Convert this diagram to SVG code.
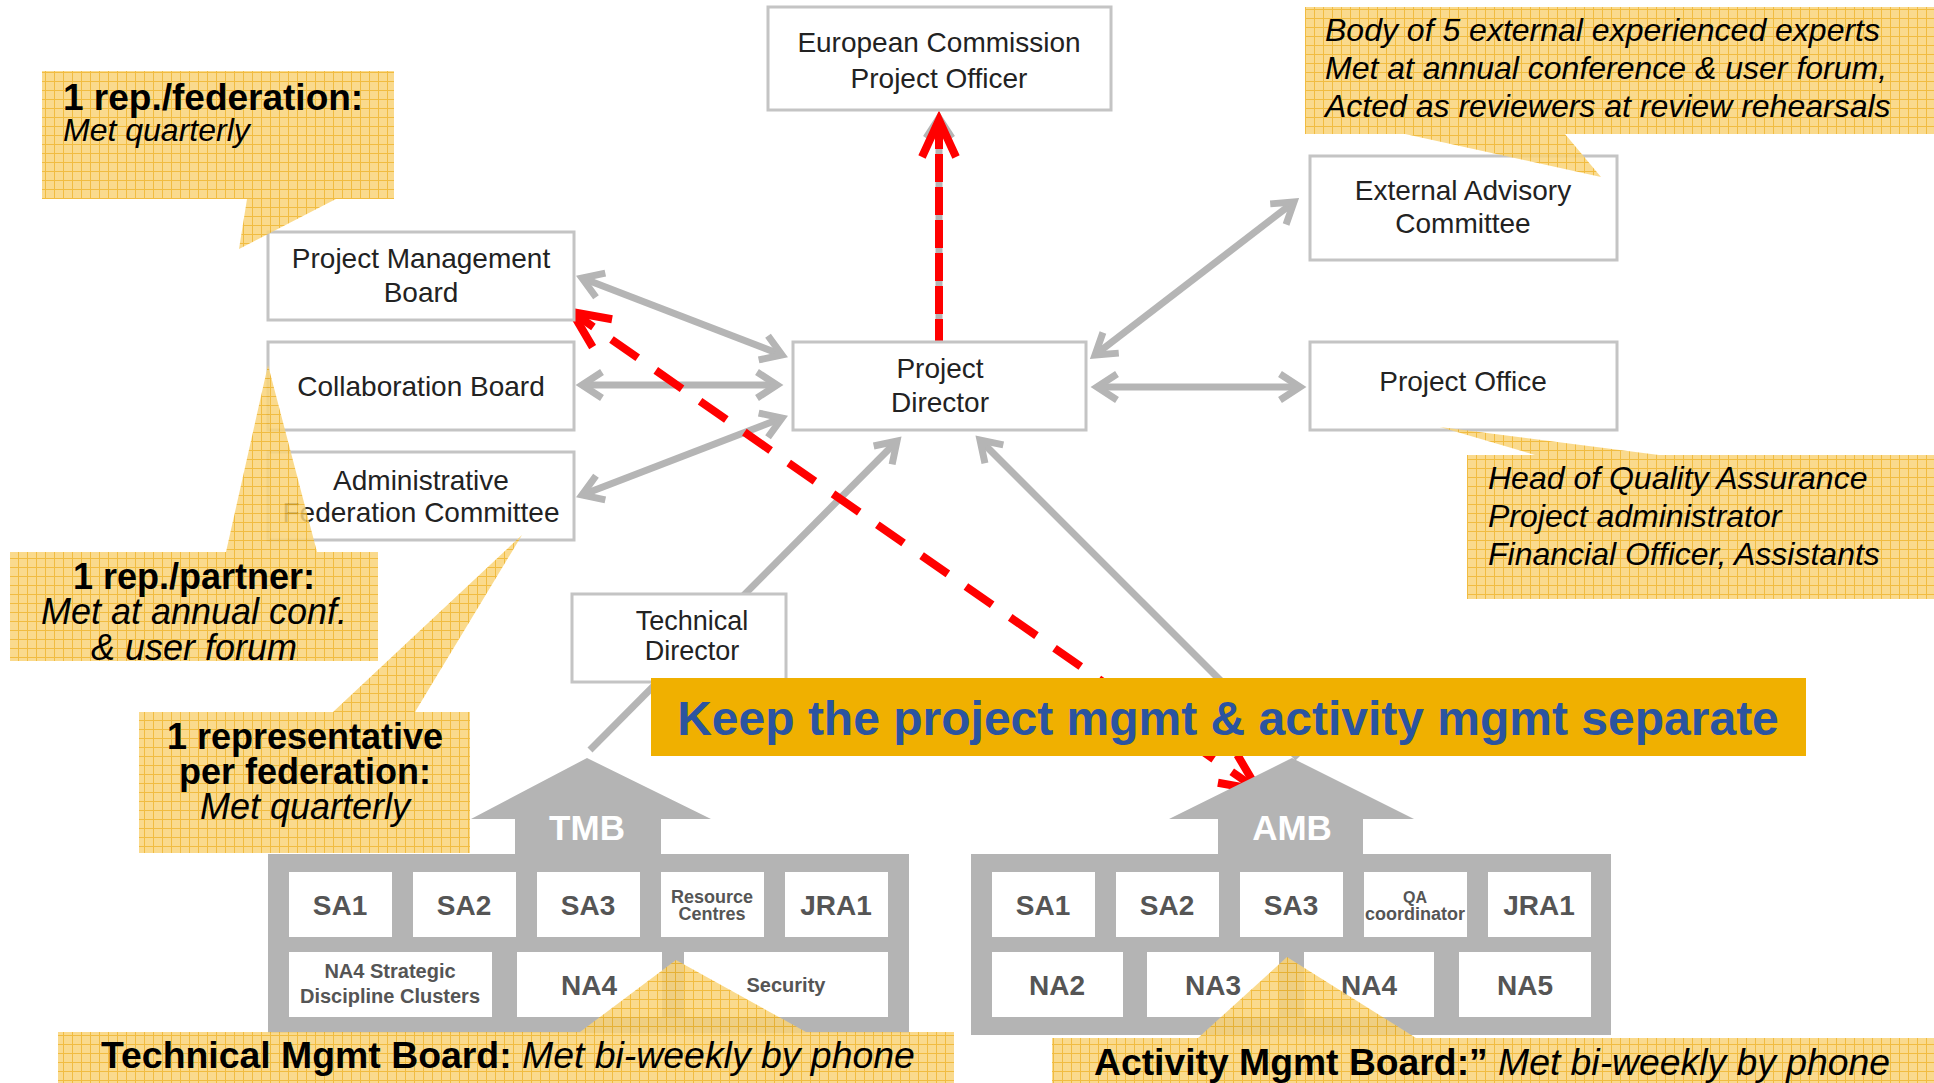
<svg xmlns="http://www.w3.org/2000/svg" width="1934" height="1083" viewBox="0 0 1934 1083">
  <defs>
    <style>
      text { font-family: 'Liberation Sans', Arial, Helvetica, sans-serif; }
      .box rect { fill: #ffffff; stroke: #c4c4c4; stroke-width: 3; }
      .bt { font-size: 28px; fill: #222222; text-anchor: middle; }
      .gl { fill: none; stroke: #b5b5b5; stroke-width: 7; }
      .rl { fill: none; stroke: #ff0000; stroke-width: 8; }
      .bld { fill: #b4b4b4; }
      .cell { fill: #ffffff; }
      .ct { font-size: 28px; font-weight: bold; fill: #555555; text-anchor: middle; }
      .cs { font-size: 18px; font-weight: bold; fill: #555555; text-anchor: middle; }
      .bn { font-size: 35px; font-weight: bold; fill: #ffffff; text-anchor: middle; }
      .co { fill: url(#grid); opacity: 0.85; }
      .cb { font-size: 36px; font-weight: bold; fill: #000000; }
      .ci { font-size: 36px; font-style: italic; fill: #000000; }
      .ni { font-size: 32px; font-style: italic; fill: #000000; }
    </style>
    <pattern id="grid" width="9" height="9" patternUnits="userSpaceOnUse">
      <rect width="9" height="9" fill="#f9d479"/>
      <path d="M0 0.5H9M0.5 0V9" stroke="#efb020" stroke-width="1"/>
    </pattern>
    <marker id="gh" viewBox="-30 -20 40 40" markerWidth="40" markerHeight="40" refX="0" refY="0" orient="auto-start-reverse" markerUnits="userSpaceOnUse">
      <path d="M-20,-13 L0,0 L-20,13" fill="none" stroke="#b5b5b5" stroke-width="7"/>
    </marker>
    <marker id="rh" viewBox="-45 -25 60 50" markerWidth="60" markerHeight="50" refX="0" refY="0" orient="auto-start-reverse" markerUnits="userSpaceOnUse">
      <path d="M-37,-17 L0,0 L-37,17" fill="none" stroke="#ff0000" stroke-width="8"/>
    </marker>
  </defs>

  <rect width="1934" height="1083" fill="#ffffff"/>

  <!-- connectors -->
  <g id="connectors">
    <path class="gl" d="M582,278 L782,355" marker-start="url(#gh)" marker-end="url(#gh)"/>
    <path class="gl" d="M582,385 L777,385" marker-start="url(#gh)" marker-end="url(#gh)"/>
    <path class="gl" d="M582,495 L782,418" marker-start="url(#gh)" marker-end="url(#gh)"/>
    <path class="gl" d="M1095,355 L1294,202" marker-start="url(#gh)" marker-end="url(#gh)"/>
    <path class="gl" d="M1097,387 L1300,387" marker-start="url(#gh)" marker-end="url(#gh)"/>
    <path class="gl" d="M590,750 L897,441" marker-end="url(#gh)"/>
    <path class="gl" d="M1298,758 L980,440" marker-end="url(#gh)"/>
    <path class="gl" d="M939,347 L939,118" marker-end="url(#gh)"/>
    <path class="rl" d="M939,347 L939,120" stroke-dasharray="28 5" marker-end="url(#rh)"/>
    <path class="rl" d="M1258,790 L572,312" stroke-dasharray="32 22" marker-start="url(#rh)" marker-end="url(#rh)"/>
  </g>

  <!-- governance bodies -->
  <g id="ec" class="box">
    <rect x="768" y="7" width="343" height="103"/>
    <text class="bt" x="939" y="52">European Commission</text>
    <text class="bt" x="939" y="88">Project Officer</text>
  </g>
  <g id="pmb" class="box">
    <rect x="268" y="232" width="306" height="88"/>
    <text class="bt" x="421" y="268">Project Management</text>
    <text class="bt" x="421" y="302">Board</text>
  </g>
  <g id="cb" class="box">
    <rect x="268" y="342" width="306" height="88"/>
    <text class="bt" x="421" y="396">Collaboration Board</text>
  </g>
  <g id="afc" class="box">
    <rect x="268" y="452" width="306" height="88"/>
    <text class="bt" x="421" y="490">Administrative</text>
    <text class="bt" x="421" y="522">Federation Committee</text>
  </g>
  <g id="pd" class="box">
    <rect x="793" y="342" width="293" height="88"/>
    <text class="bt" x="940" y="378">Project</text>
    <text class="bt" x="940" y="412">Director</text>
  </g>
  <g id="eac" class="box">
    <rect x="1310" y="156" width="307" height="104"/>
    <text class="bt" x="1463" y="200">External Advisory</text>
    <text class="bt" x="1463" y="233">Committee</text>
  </g>
  <g id="po" class="box">
    <rect x="1310" y="342" width="307" height="88"/>
    <text class="bt" x="1463" y="391">Project Office</text>
  </g>
  <g id="td" class="box">
    <rect x="572" y="594" width="214" height="88"/>
    <text class="bt" x="692" y="630" style="font-size:27px">Technical</text>
    <text class="bt" x="692" y="660" style="font-size:27px">Director</text>
  </g>

  <!-- Technical Management Board -->
  <g id="tmb">
    <path class="bld" d="M268,854 H515 V819 H471 L587,758 L711,819 H661 V854 H909 V1033 H268 Z"/>
    <text class="bn" x="587" y="840">TMB</text>
    <rect class="cell" x="289" y="872" width="103" height="65"/>
    <rect class="cell" x="413" y="872" width="103" height="65"/>
    <rect class="cell" x="537" y="872" width="103" height="65"/>
    <rect class="cell" x="661" y="872" width="103" height="65"/>
    <rect class="cell" x="785" y="872" width="103" height="65"/>
    <rect class="cell" x="289" y="952" width="203" height="65"/>
    <rect class="cell" x="517" y="952" width="145" height="65"/>
    <rect class="cell" x="684" y="952" width="204" height="65"/>
    <text class="ct" x="340" y="915">SA1</text>
    <text class="ct" x="464" y="915">SA2</text>
    <text class="ct" x="588" y="915">SA3</text>
    <text class="cs" x="712" y="903">Resource</text>
    <text class="cs" x="712" y="920">Centres</text>
    <text class="ct" x="836" y="915">JRA1</text>
    <text class="cs" x="390" y="978" style="font-size:20px">NA4 Strategic</text>
    <text class="cs" x="390" y="1003" style="font-size:20px">Discipline Clusters</text>
    <text class="ct" x="589" y="995">NA4</text>
    <text class="cs" x="786" y="992" style="font-size:20px">Security</text>
  </g>

  <!-- Activity Management Board -->
  <g id="amb">
    <path class="bld" d="M971,854 H1218 V819 H1169 L1292,758 L1414,819 H1363 V854 H1611 V1035 H971 Z"/>
    <text class="bn" x="1292" y="840">AMB</text>
    <rect class="cell" x="992" y="872" width="103" height="65"/>
    <rect class="cell" x="1116" y="872" width="103" height="65"/>
    <rect class="cell" x="1240" y="872" width="103" height="65"/>
    <rect class="cell" x="1364" y="872" width="103" height="65"/>
    <rect class="cell" x="1488" y="872" width="103" height="65"/>
    <rect class="cell" x="992" y="952" width="131" height="65"/>
    <rect class="cell" x="1147" y="952" width="132" height="65"/>
    <rect class="cell" x="1304" y="952" width="130" height="65"/>
    <rect class="cell" x="1459" y="952" width="132" height="65"/>
    <text class="ct" x="1043" y="915">SA1</text>
    <text class="ct" x="1167" y="915">SA2</text>
    <text class="ct" x="1291" y="915">SA3</text>
    <text class="cs" x="1415" y="903" style="font-size:16px">QA</text>
    <text class="cs" x="1415" y="920">coordinator</text>
    <text class="ct" x="1539" y="915">JRA1</text>
    <text class="ct" x="1057" y="995">NA2</text>
    <text class="ct" x="1213" y="995">NA3</text>
    <text class="ct" x="1369" y="995">NA4</text>
    <text class="ct" x="1525" y="995">NA5</text>
  </g>

  <!-- banner -->
  <g id="banner">
    <rect x="651" y="678" width="1155" height="78" fill="#f0b000"/>
    <text x="1228" y="735" text-anchor="middle" font-size="48" font-weight="bold" fill="#2b54a0">Keep the project mgmt &amp; activity mgmt separate</text>
  </g>

  <!-- callouts -->
  <g id="note-pmb">
    <path class="co" d="M42,71 H394 V199 H336 L239,249 L247,199 H42 Z"/>
    <text class="cb" x="63" y="110" style="font-size:37px">1 rep./federation:</text>
    <text class="ni" x="63" y="141">Met quarterly</text>
  </g>
  <g id="note-cb">
    <path class="co" d="M10,552 H226 L268,365 L317,552 H378 V661 H10 Z"/>
    <text class="cb" x="194" y="589" text-anchor="middle">1 rep./partner:</text>
    <text class="ci" x="194" y="624" text-anchor="middle">Met at annual conf.</text>
    <text class="ci" x="194" y="660" text-anchor="middle">&amp; user forum</text>
  </g>
  <g id="note-afc">
    <path class="co" d="M139,712 H333 L522,535 L415,712 H470 V853 H139 Z"/>
    <text class="cb" x="305" y="749" text-anchor="middle">1 representative</text>
    <text class="cb" x="305" y="784" text-anchor="middle">per federation:</text>
    <text class="ci" x="305" y="819" text-anchor="middle">Met quarterly</text>
  </g>
  <g id="note-eac">
    <path class="co" d="M1305,7 H1934 V134 H1565 L1601,177 L1405,134 H1305 Z"/>
    <text class="ni" x="1325" y="41">Body of 5 external experienced experts</text>
    <text class="ni" x="1325" y="79">Met at annual conference &amp; user forum,</text>
    <text class="ni" x="1325" y="117">Acted as reviewers at review rehearsals</text>
  </g>
  <g id="note-po">
    <path class="co" d="M1467,455 H1535 L1440,427 L1659,455 H1934 V599 H1467 Z"/>
    <text class="ni" x="1488" y="489">Head of Quality Assurance</text>
    <text class="ni" x="1488" y="527">Project administrator</text>
    <text class="ni" x="1488" y="565">Financial Officer, Assistants</text>
  </g>
  <g id="note-tmb">
    <path class="co" d="M58,1032 H580 L676,960 L806,1032 H954 V1090 H58 Z"/>
    <text x="101" y="1068" font-size="37.4"><tspan font-weight="bold">Technical Mgmt Board:</tspan><tspan font-style="italic"> Met bi-weekly by phone</tspan></text>
  </g>
  <g id="note-amb">
    <path class="co" d="M1052,1038 H1198 L1287,957 L1416,1038 H1934 V1090 H1052 Z"/>
    <text x="1094" y="1075" font-size="37.3"><tspan font-weight="bold">Activity Mgmt Board:”</tspan><tspan font-style="italic"> Met bi-weekly by phone</tspan></text>
  </g>
</svg>
